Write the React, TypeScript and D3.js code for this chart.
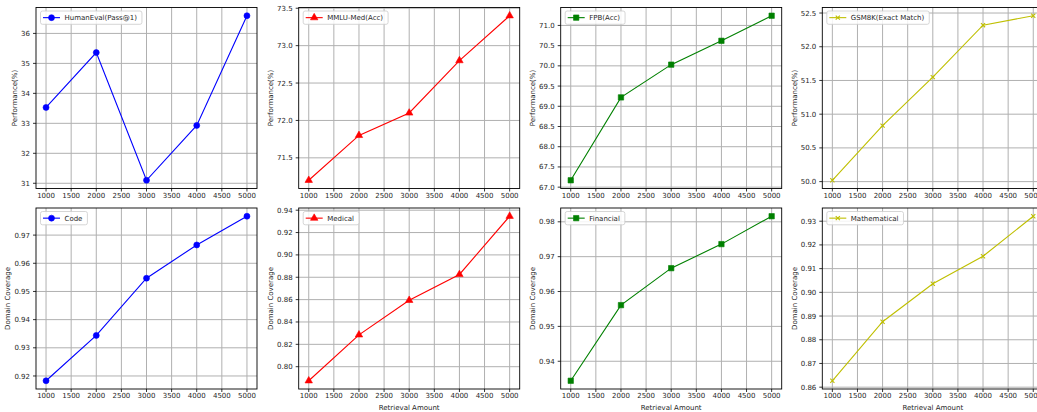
import React from "react";
import * as d3 from "d3";

const retrievalAmounts = [1000, 2000, 3000, 4000, 5000];
const xTickValues = [1000, 1500, 2000, 2500, 3000, 3500, 4000, 4500, 5000];

const humanEval = [33.53, 35.36, 31.1, 32.93, 36.59];
const mmluMed = [71.2, 71.8, 72.1, 72.8, 73.4];
const fpb = [67.17, 69.22, 70.03, 70.62, 71.24];
const gsm8k = [50.02, 50.83, 51.55, 52.32, 52.46];

const codeCov = [0.9183, 0.9344, 0.9547, 0.9665, 0.9767];
const medicalCov = [0.7874, 0.8285, 0.8594, 0.8825, 0.9346];
const financialCov = [0.9344, 0.9561, 0.9667, 0.9736, 0.9816];
const mathCov = [0.8627, 0.8876, 0.9036, 0.9152, 0.9321];

const humanEvalTicks = [31, 32, 33, 34, 35, 36];
const mmluTicks = [71.5, 72.0, 72.5, 73.0, 73.5];
const fpbTicks = [67.0, 67.5, 68.0, 68.5, 69.0, 69.5, 70.0, 70.5, 71.0];
const gsmTicks = [50.0, 50.5, 51.0, 51.5, 52.0, 52.5];
const codeTicks = [0.92, 0.93, 0.94, 0.95, 0.96, 0.97];
const medicalTicks = [0.8, 0.82, 0.84, 0.86, 0.88, 0.9, 0.92, 0.94];
const financialTicks = [0.94, 0.95, 0.96, 0.97, 0.98];
const mathTicks = [0.86, 0.87, 0.88, 0.89, 0.9, 0.91, 0.92, 0.93];

const topLabels = ["HumanEval(Pass@1)", "MMLU-Med(Acc)", "FPB(Acc)", "GSM8K(Exact Match)"];
const bottomLabels = ["Code", "Medical", "Financial", "Mathematical"];
const colors = ["#0000ff", "#ff0000", "#008000", "#bfbf00"];
const markers = ["circle", "triangle", "square", "x"];

type Panel = {
  values: number[];
  ticks: number[];
  fmt: string;
  label: string;
  color: string;
  marker: string;
  ylabel: string;
  xlabel?: string;
  col: number;
  row: number;
};

const panels: Panel[] = [
  { values: humanEval, ticks: humanEvalTicks, fmt: "d", label: topLabels[0], color: colors[0], marker: markers[0], ylabel: "Performance(%)", col: 0, row: 0 },
  { values: mmluMed, ticks: mmluTicks, fmt: ".1f", label: topLabels[1], color: colors[1], marker: markers[1], ylabel: "Performance(%)", col: 1, row: 0 },
  { values: fpb, ticks: fpbTicks, fmt: ".1f", label: topLabels[2], color: colors[2], marker: markers[2], ylabel: "Performance(%)", col: 2, row: 0 },
  { values: gsm8k, ticks: gsmTicks, fmt: ".1f", label: topLabels[3], color: colors[3], marker: markers[3], ylabel: "Performance(%)", col: 3, row: 0 },
  { values: codeCov, ticks: codeTicks, fmt: ".2f", label: bottomLabels[0], color: colors[0], marker: markers[0], ylabel: "Domain Coverage", col: 0, row: 1 },
  { values: medicalCov, ticks: medicalTicks, fmt: ".2f", label: bottomLabels[1], color: colors[1], marker: markers[1], ylabel: "Domain Coverage", xlabel: "Retrieval Amount", col: 1, row: 1 },
  { values: financialCov, ticks: financialTicks, fmt: ".2f", label: bottomLabels[2], color: colors[2], marker: markers[2], ylabel: "Domain Coverage", xlabel: "Retrieval Amount", col: 2, row: 1 },
  { values: mathCov, ticks: mathTicks, fmt: ".2f", label: bottomLabels[3], color: colors[3], marker: markers[3], ylabel: "Domain Coverage", xlabel: "Retrieval Amount", col: 3, row: 1 },
];

const W = 1037;
const H = 412;
const colLefts = [36, 298.7, 560.7, 822.3];
const rowTops = [7.5, 208];
const AW = 221;
const AH = 181;
const FONT = "DejaVu Sans, sans-serif";
const FS = 7;

let measureCtx: CanvasRenderingContext2D | null = null;
function measure(t: string): number {
  if (!measureCtx) {
    const c = document.createElement("canvas");
    measureCtx = c.getContext("2d");
  }
  if (!measureCtx) return t.length * FS * 0.6;
  measureCtx.font = `${FS}px "DejaVu Sans"`;
  return measureCtx.measureText(t).width;
}

function markerPath(m: string): string {
  const sym =
    m === "circle" ? d3.symbolCircle : m === "triangle" ? d3.symbolTriangle : m === "square" ? d3.symbolSquare : d3.symbolX;
  const size = m === "circle" ? 28 : m === "triangle" ? 24 : m === "square" ? 29 : 13;
  return d3.symbol(sym, size)() || "";
}

function PanelView({ p }: { p: Panel }) {
  const left = colLefts[p.col];
  const top = rowTops[p.row];
  const xExt = d3.extent(retrievalAmounts) as [number, number];
  const xPad = (xExt[1] - xExt[0]) * 0.05;
  const x = d3.scaleLinear().domain([xExt[0] - xPad, xExt[1] + xPad]).range([left, left + AW]);
  const yExt = d3.extent(p.values) as [number, number];
  const yPad = (yExt[1] - yExt[0]) * 0.05;
  const y = d3.scaleLinear().domain([yExt[0] - yPad, yExt[1] + yPad]).range([top + AH, top]);
  const fmt = d3.format(p.fmt);
  const line = d3
    .line<number>()
    .x((_, i) => x(retrievalAmounts[i]))
    .y((v) => y(v));
  const mp = markerPath(p.marker);
  const isStroke = p.marker === "x";
  const maxTickW = Math.max(...p.ticks.map((t) => measure(fmt(t))));
  const ylabelX = left - 6 - maxTickW - 6.5;
  const legW = 24 + measure(p.label) + 5;
  const legX = left + 4.5;
  const legY = top + 3.5;
  const legH = 13.3;

  return (
    <g>
      <rect x={left} y={top} width={AW} height={AH} fill="#fff" />
      {/* grid */}
      <g stroke="#b0b0b0" strokeWidth={1}>
        {xTickValues.map((t) => (
          <line key={`gx${t}`} x1={x(t)} x2={x(t)} y1={top} y2={top + AH} />
        ))}
        {p.ticks.map((t) => (
          <line key={`gy${t}`} x1={left} x2={left + AW} y1={y(t)} y2={y(t)} />
        ))}
      </g>
      {/* data */}
      <g>
        <path d={line(p.values) || ""} fill="none" stroke={p.color} strokeWidth={1.1} />
        {p.values.map((v, i) => (
          <path
            key={i}
            d={mp}
            transform={`translate(${x(retrievalAmounts[i])},${y(v)})`}
            fill={isStroke ? "none" : p.color}
            stroke={p.color}
            strokeWidth={isStroke ? 1.1 : 0.6}
          />
        ))}
      </g>
      {/* spines */}
      <rect x={left} y={top} width={AW} height={AH} fill="none" stroke="#000" strokeWidth={0.9} />
      {/* ticks and labels */}
      <g fontFamily={FONT} fontSize={FS} fill="#262626">
        {xTickValues.map((t) => (
          <g key={`xt${t}`}>
            <line x1={x(t)} x2={x(t)} y1={top + AH} y2={top + AH + 3} stroke="#000" strokeWidth={0.8} />
            <text x={x(t)} y={top + AH + 9} textAnchor="middle">
              {t}
            </text>
          </g>
        ))}
        {p.ticks.map((t) => (
          <g key={`yt${t}`}>
            <line x1={left - 3} x2={left} y1={y(t)} y2={y(t)} stroke="#000" strokeWidth={0.8} />
            <text x={left - 6} y={y(t)} dy="0.36em" textAnchor="end">
              {fmt(t)}
            </text>
          </g>
        ))}
        <text
          transform={`translate(${ylabelX},${top + AH / 2}) rotate(-90)`}
          textAnchor="middle"
          dy="0.36em"
        >
          {p.ylabel}
        </text>
        {p.xlabel && (
          <text x={left + AW / 2} y={top + AH + 21} textAnchor="middle">
            {p.xlabel}
          </text>
        )}
      </g>
      {/* legend */}
      <g>
        <rect x={legX} y={legY} width={legW} height={legH} rx={2} ry={2} fill="#fff" fillOpacity={0.85} stroke="#cccccc" strokeWidth={0.8} />
        <line x1={legX + 2.5} x2={legX + 19.5} y1={legY + legH / 2} y2={legY + legH / 2} stroke={p.color} strokeWidth={1.1} />
        <path
          d={mp}
          transform={`translate(${legX + 11},${legY + legH / 2})`}
          fill={isStroke ? "none" : p.color}
          stroke={p.color}
          strokeWidth={isStroke ? 1.1 : 0.6}
        />
        <text x={legX + 24} y={legY + legH / 2} dy="0.36em" fontFamily={FONT} fontSize={FS} fill="#262626">
          {p.label}
        </text>
      </g>
    </g>
  );
}

export default function App() {
  return (
    <svg
      width={W}
      height={H}
      viewBox={`0 0 ${W} ${H}`}
      style={{ position: "absolute", left: 0, top: 0, background: "#fff" }}
    >
      <rect x={0} y={0} width={W} height={H} fill="#fff" />
      {panels.map((p, i) => (
        <PanelView key={i} p={p} />
      ))}
    </svg>
  );
}
